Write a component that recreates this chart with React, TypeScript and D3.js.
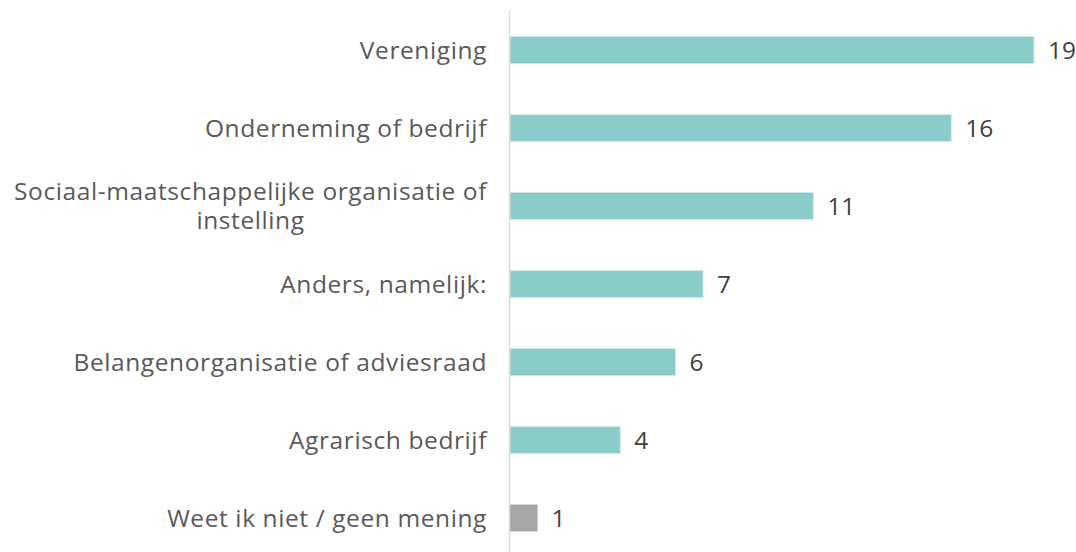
import { useEffect, useRef } from "react";
import * as d3 from "d3";

const categories = [
  ["Vereniging"],
  ["Onderneming of bedrijf"],
  ["Sociaal-maatschappelijke organisatie of", "instelling"],
  ["Anders, namelijk:"],
  ["Belangenorganisatie of adviesraad"],
  ["Agrarisch bedrijf"],
  ["Weet ik niet / geen mening"],
];
const values = [19, 16, 11, 7, 6, 4, 1];
const greyIndex = [6];

const TEAL = "#8accc9";
const GREY = "#a6a6a6";

export default function App() {
  const ref = useRef<SVGSVGElement>(null);

  useEffect(() => {
    if (!ref.current) return;
    const el = ref.current;
    const width = 1076;
    const height = 552;
    d3.select(el).selectAll("*").remove();

    const keys = categories.map((c) => c.join(" "));
    const x = d3.scaleLinear().domain([0, 19]).range([510, 1034]);
    const y = d3
      .scaleBand<string>()
      .domain(keys)
      .range([11, 557])
      .paddingInner(0.654)
      .paddingOuter(0.327);

    const svg = d3.select(el).attr("width", width).attr("height", height);
    const font = "'Open Sans', sans-serif";
    const labelRight = 487;

    // Bars
    svg
      .selectAll(".bar")
      .data(values)
      .join("rect")
      .attr("x", x(0))
      .attr("y", (_, i) => y(keys[i])!)
      .attr("width", (d) => x(d) - x(0))
      .attr("height", y.bandwidth())
      .attr("fill", (_, i) => (greyIndex.includes(i) ? GREY : TEAL))
      .attr("stroke", (_, i) => (greyIndex.includes(i) ? "none" : "#cfeae8"))
      .attr("stroke-width", 1);

    // Axis line
    svg
      .append("line")
      .attr("x1", x(0) - 0.5)
      .attr("x2", x(0) - 0.5)
      .attr("y1", 10)
      .attr("y2", height)
      .attr("stroke", "#d9d9d9")
      .attr("stroke-width", 1.5);

    // Category labels (multi-line labels: lines centred on the widest line)
    categories.forEach((lines, i) => {
      const cy = y(keys[i])! + y.bandwidth() / 2;
      const lh = 29;
      const t = svg
        .append("text")
        .attr("text-anchor", "end")
        .style("font-family", font)
        .style("font-size", "24.5px")
        .style("letter-spacing", "0.6px")
        .style("fill", "#595959");
      const spans = lines.map((line, j) =>
        t
          .append("tspan")
          .attr("x", labelRight)
          .attr("y", cy + (j - (lines.length - 1) / 2) * lh)
          .attr("dy", "0.36em")
          .text(line)
      );
      if (lines.length > 1) {
        const widths = spans.map((s) => (s.node() as SVGTSpanElement).getComputedTextLength());
        const maxW = Math.max(...widths);
        t.attr("text-anchor", "middle");
        spans.forEach((s) => s.attr("x", labelRight - maxW / 2));
      }
    });

    // Value labels
    svg
      .selectAll(".val")
      .data(values)
      .join("text")
      .attr("x", (d) => x(d) + 14)
      .attr("y", (_, i) => y(keys[i])! + y.bandwidth() / 2)
      .attr("dy", "0.36em")
      .style("font-family", font)
      .style("font-size", "24.5px")
      .style("fill", "#404040")
      .text((d) => String(d));
  }, []);

  return (
    <svg
      ref={ref}
      style={{ position: "absolute", left: 0, top: 0, display: "block" }}
      width={1076}
      height={552}
    />
  );
}
